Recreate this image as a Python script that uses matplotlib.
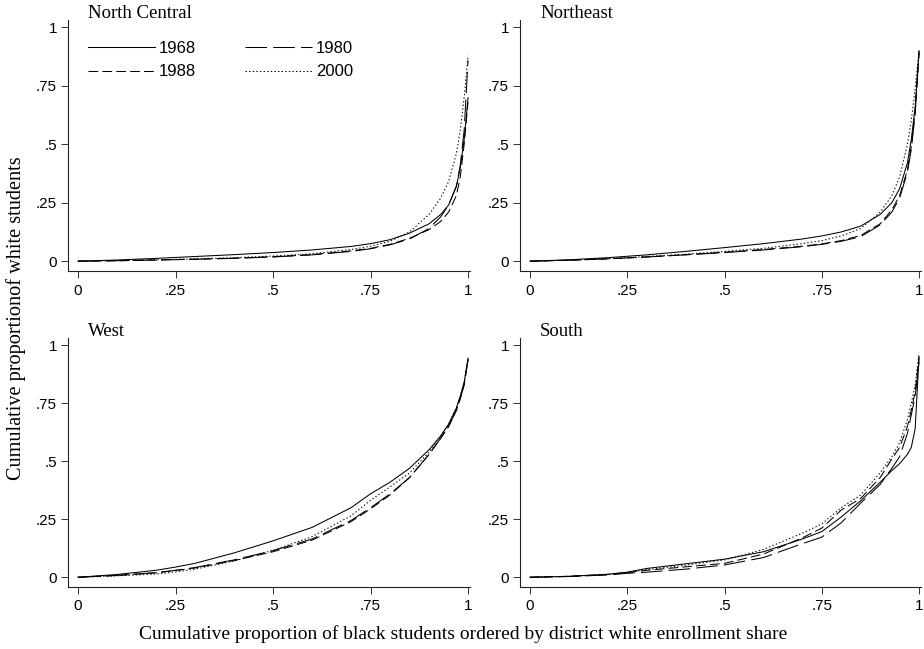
import numpy as np
import matplotlib
matplotlib.use("Agg")
import matplotlib.pyplot as plt

# cumulative share of black students (x) and of white students (y), by region and year
x_grid = [0, .1, .2, .25, .3, .4, .5, .6, .7, .75, .8, .85, .9, .93, .95, .97, .98, .99, 1.0]

nc_1968 = [0, .005, .012, .016, .02, .028, .037, .048, .063, .075, .092, .12, .16, .20, .24, .32, .40, .52, .70]
nc_1980 = [0, .002, .005, .0065, .008, .012, .018, .027, .042, .053, .07, .095, .14, .19, .24, .32, .41, .56, .86]
nc_1988 = [0, .002, .005, .007, .009, .013, .019, .028, .044, .055, .072, .098, .135, .17, .21, .28, .36, .50, .68]
nc_2000 = [0, .003, .006, .008, .01, .015, .022, .032, .05, .064, .085, .125, .20, .27, .34, .46, .56, .70, .88]

ne_1968 = [0, .006, .015, .021, .027, .042, .058, .075, .095, .108, .125, .15, .20, .25, .31, .42, .52, .66, .90]
ne_1980 = [0, .004, .01, .014, .018, .027, .037, .048, .062, .072, .085, .105, .155, .21, .27, .38, .48, .63, .90]
ne_1988 = [0, .004, .01, .014, .018, .028, .038, .05, .064, .074, .088, .11, .16, .22, .28, .39, .49, .64, .89]
ne_2000 = [0, .004, .011, .015, .02, .03, .042, .055, .075, .088, .108, .14, .21, .28, .36, .50, .60, .74, .90]

we_1968 = [0, .012, .03, .044, .06, .105, .157, .215, .30, .36, .41, .47, .55, .61, .66, .73, .78, .84, .945]
we_1980 = [0, .008, .02, .03, .042, .075, .115, .165, .245, .30, .36, .43, .53, .60, .65, .72, .77, .83, .94]
we_1988 = [0, .008, .019, .029, .04, .072, .11, .16, .24, .295, .355, .43, .53, .60, .65, .72, .77, .83, .94]
we_2000 = [0, .006, .014, .023, .035, .07, .116, .175, .265, .332, .39, .45, .54, .61, .66, .73, .78, .84, .945]

so_1968 = [0, .004, .013, .022, .038, .058, .078, .11, .165, .197, .26, .33, .41, .46, .49, .53, .56, .64, .95]
so_1980 = [0, .003, .01, .017, .022, .035, .053, .085, .145, .173, .235, .32, .40, .47, .52, .62, .70, .78, .93]
so_1988 = [0, .004, .012, .02, .03, .045, .06, .10, .17, .212, .29, .34, .43, .51, .56, .65, .72, .80, .95]
so_2000 = [0, .004, .012, .02, .033, .052, .075, .12, .19, .23, .30, .355, .45, .52, .58, .68, .75, .83, .968]

years = ['1968', '1980', '1988', '2000']
tick_vals = [0, .25, .5, .75, 1]
tick_labels = ['0', '.25', '.5', '.75', '1']

plt.rcParams['lines.scale_dashes'] = False
styles = {
    '1968': '-',
    '1980': (0, (15.5, 4.5)),
    '1988': (0, (7, 3)),
    '2000': (0, (1, 1.6)),
}

# panel boxes in pixels: left, top, right, bottom
regions = [
    ('North Central', [nc_1968, nc_1980, nc_1988, nc_2000], (68, 20, 470, 271)),
    ('Northeast', [ne_1968, ne_1980, ne_1988, ne_2000], (520, 20, 921, 271)),
    ('West', [we_1968, we_1980, we_1988, we_2000], (68, 338, 470, 587)),
    ('South', [so_1968, so_1980, so_1988, so_2000], (520, 338, 921, 587)),
]

W, H = 924, 649
fig = plt.figure(figsize=(W / 100, H / 100), dpi=100)
serif = 'Liberation Serif'
sans = 'Liberation Sans'

for i, (name, series, (l, t, r, b)) in enumerate(regions):
    ax = fig.add_axes([l / W, 1 - b / H, (r - l) / W, (b - t) / H])
    lines = {}
    for yr, ys in zip(years, series):
        lines[yr], = ax.plot(x_grid, ys, color='black', lw=0.75, linestyle=styles[yr], label=yr)
    ax.set_xlim(-0.0256, 1.005)
    ax.set_ylim(-0.042, 1.032)
    for s in ['top', 'right']:
        ax.spines[s].set_visible(False)
    for s in ['left', 'bottom']:
        ax.spines[s].set_linewidth(0.8)
        ax.spines[s].set_color('#222222')
    ax.set_xticks(tick_vals)
    ax.set_xticklabels(tick_labels, fontfamily=sans, fontsize=11)
    ax.set_yticks(tick_vals)
    ax.set_yticklabels(tick_labels, fontfamily=sans, fontsize=11)
    ax.tick_params(direction='out', length=5, width=0.7, color='#333333', pad=3)
    ax.tick_params(axis='x', pad=4)
    ax.text(20 / (r - l), 1 + 2 / (b - t), name, transform=ax.transAxes,
            fontfamily=serif, fontsize=13.5, va='baseline', ha='left')
    if i == 0:
        order = ['1968', '1988', '1980', '2000']
        ax.legend([lines[k] for k in order], order, ncol=2, frameon=False,
                  loc='upper left', bbox_to_anchor=(20 / (r - l), 1 - 21 / (b - t)),
                  prop={'family': sans, 'size': 12}, handlelength=4.0,
                  handletextpad=0.25, columnspacing=2.95, labelspacing=0.5,
                  borderpad=0, borderaxespad=0)

fig.text(16 / W, 1 - 318 / H, 'Cumulative proportionof white students', rotation=90,
         fontfamily=serif, fontsize=14.6, ha='center', va='center')
fig.text(463 / W, 1 - 634 / H,
         'Cumulative proportion of black students ordered by district white enrollment share',
         fontfamily=serif, fontsize=14, ha='center', va='center')

fig.savefig('out.png', dpi=100)
